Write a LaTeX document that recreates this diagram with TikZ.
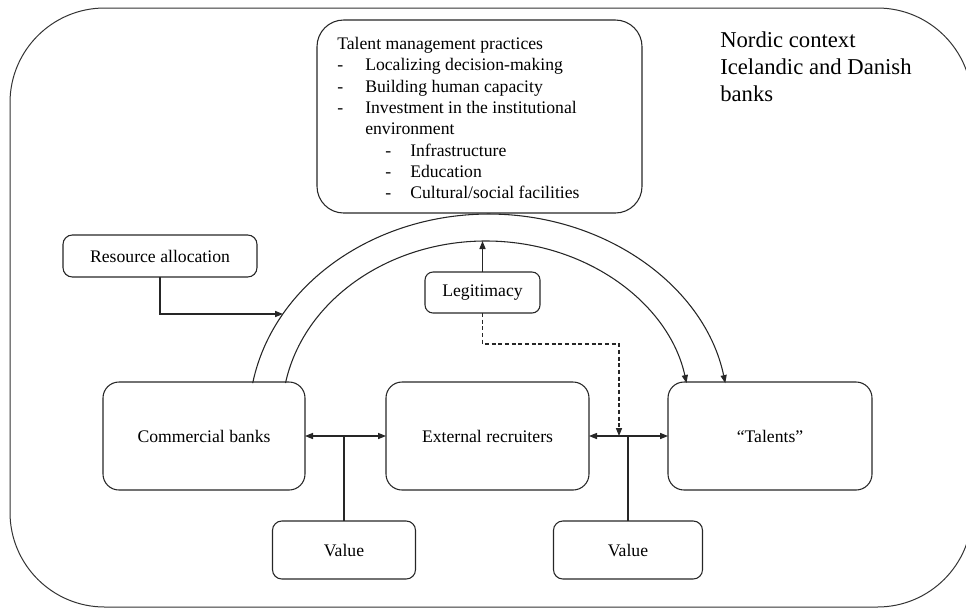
\documentclass[tikz,border=0pt]{standalone}
\usepackage{fontspec}
\setmainfont{Liberation Serif}
\usetikzlibrary{arrows.meta}

\tikzset{
  ln/.style={line width=0.8pt, draw=black!85},
  tip/.style={-{Triangle[length=6pt,width=4.6pt]}},
  twotip/.style={{Triangle[length=6pt,width=4.6pt]}-{Triangle[length=6pt,width=4.6pt]}},
  box/.style={ln, rounded corners=#1, inner sep=0pt, outer sep=0pt,
              font=\fontsize{13.25}{16}\selectfont, align=center},
  box/.default=8pt,
}

\begin{document}
\begin{tikzpicture}[x=0.75pt, y=0.75pt]
  \useasboundingbox (0,0) rectangle (966,-608);
  \clip (0,0) rectangle (966,-608);

  % outer context frame
  \draw[line width=0.75pt, draw=black!80, rounded corners=71pt] (10,-8) rectangle (972,-607);

  % context label
  \node[anchor=north west, inner sep=0pt, align=left,
        font=\fontsize{17}{20.25}\selectfont] (ctx) at (720,-31.5)
    {Nordic context\\Icelandic and Danish\\banks};

  % talent management box and its list
  \node[box=20pt, minimum width=243.75pt, minimum height=144.75pt] (tm) at (479.5,-116.5) {};
  \node[anchor=north west, inner sep=0pt, align=left,
        font=\fontsize{13.25}{16}\selectfont] (tmtext) at (337,-37)
    {Talent management practices\\
     \makebox[21pt][l]{-}Localizing decision-making\\
     \makebox[21pt][l]{-}Building human capacity\\
     \makebox[21pt][l]{-}Investment in the institutional\\
     \hspace*{21pt}environment\\
     \hspace*{36pt}\makebox[18.75pt][l]{-}Infrastructure\\
     \hspace*{36pt}\makebox[18.75pt][l]{-}Education\\
     \hspace*{36pt}\makebox[18.75pt][l]{-}Cultural/social facilities};

  % main actors
  \node[box=12pt, minimum width=151.5pt, minimum height=81pt] (cb) at (204,-436) {Commercial banks};
  \node[box=12pt, minimum width=152.25pt, minimum height=81pt] (er) at (487.5,-436) {External recruiters};
  \node[box=12pt, minimum width=153pt, minimum height=81pt] (ta) at (770,-436) {``Talents''};

  % small boxes
  \node[box=7pt, minimum width=145.5pt, minimum height=31.5pt] (ra) at (160,-256) {Resource allocation};
  \node[box=6pt, minimum width=86.25pt, minimum height=30.75pt] (lg) at (482.5,-292.5) {Legitimacy};
  \node[box=7pt, minimum width=107.25pt, minimum height=43.5pt] (v1) at (344,-550) {Value};
  \node[box=7pt, minimum width=111.75pt, minimum height=43.5pt] (v2) at (628,-550) {Value};

  % the two arcs from the banks to the talents
  \coordinate (oL) at (252.7,-383.1);
  \coordinate (iL) at (285.5,-383);
  \draw[ln, tip] (oL) arc[start angle=169.9, end angle=10.1, x radius=180pt, y radius=153.75pt];
  \draw[ln, tip] (iL) arc[start angle=169.4, end angle=10.6, x radius=153pt, y radius=130.5pt];

  % points where connectors meet the arcs
  \coordinate (rhit) at (283,-314);
  \coordinate (itop) at (482.5,-241);

  % resource allocation feeds the outer arc
  \draw[ln, tip] (ra.south) |- (rhit);

  % legitimacy feeds the inner arc
  \draw[ln, tip] (lg.north) -- (itop);

  % exchanges between the actors
  \draw[ln, twotip] (cb.east) -- (er.west);
  \draw[ln, twotip] (er.east) -- (ta.west);

  % value stems
  \draw[ln] (v1.north) -- (v1.north |- cb.east);
  \draw[ln] (v2.north) -- (v2.north |- er.east);

  % dashed legitimacy link
  \coordinate (dhit) at (619,-436);
  \draw[ln, dashed, dash pattern=on 3pt off 2pt, tip] (lg.south) -- ++(0,-31) -| (dhit);
\end{tikzpicture}
\end{document}
